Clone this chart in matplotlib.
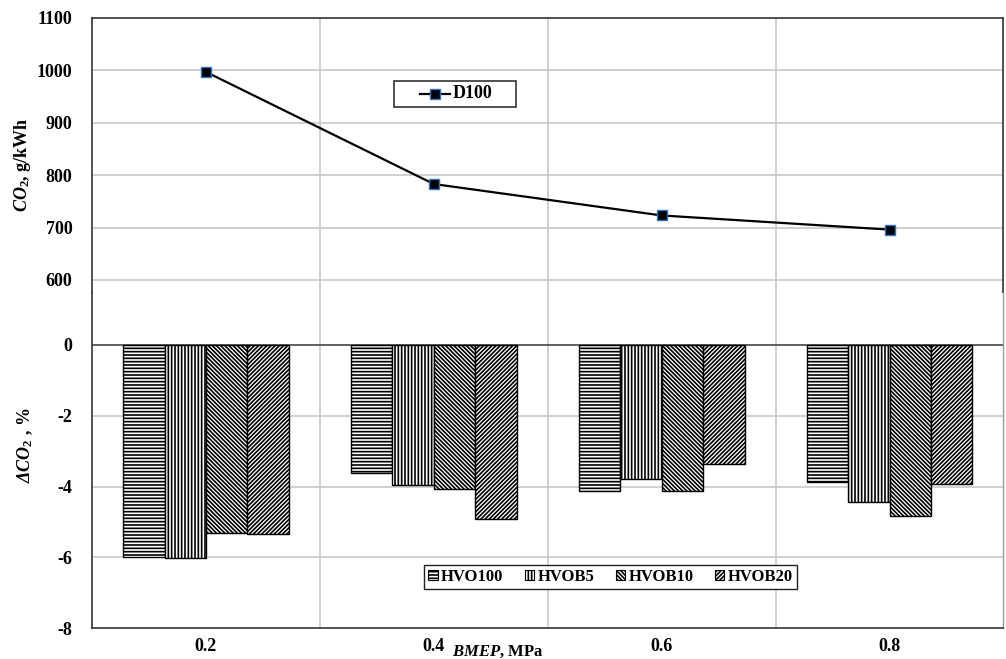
import numpy as np
import matplotlib
matplotlib.use("Agg")
import matplotlib.pyplot as plt
from matplotlib.patches import Patch, Rectangle

# CO2 emissions vs. BMEP: absolute D100 values (top), relative change of HVO blends (bottom)
bmep = ["0.2", "0.4", "0.6", "0.8"]
d100 = [997, 783, 723, 696]

fuels = ["HVO100", "HVOB5", "HVOB10", "HVOB20"]
hvo100 = [-6.00, -3.63, -4.14, -3.88]
hvob5 = [-6.03, -3.97, -3.80, -4.44]
hvob10 = [-5.32, -4.08, -4.12, -4.84]
hvob20 = [-5.35, -4.91, -3.36, -3.93]
delta_co2 = [hvo100, hvob5, hvob10, hvob20]
hatches = ["-----", "|||||", "\\" * 8, "/" * 8]

plt.rcParams["font.family"] = ["Liberation Serif", "DejaVu Serif"]
plt.rcParams["font.weight"] = "bold"
plt.rcParams["axes.unicode_minus"] = False
plt.rcParams["mathtext.fontset"] = "custom"
plt.rcParams["mathtext.rm"] = "Liberation Serif:bold"
plt.rcParams["mathtext.it"] = "Liberation Serif:bold:italic"
plt.rcParams["mathtext.cal"] = "Liberation Serif:bold:italic"
plt.rcParams["hatch.linewidth"] = 1.2

grid_c = "#c4c4c4"
spine_c = "#333333"
bold = {"weight": "bold", "size": 13}
bold_s = {"weight": "bold", "size": 12}

fig = plt.figure(figsize=(10.06, 6.59), dpi=100)
ax1 = fig.add_axes([0.0915, 0.5554, 0.906, 0.4173])
ax2 = fig.add_axes([0.0915, 0.0470, 0.906, 0.5084])

x = np.arange(len(bmep))
for ax in (ax1, ax2):
    ax.set_xlim(-0.5, len(bmep) - 0.5)
    for xv in x[:-1] + 0.5:
        ax.axvline(xv, color=grid_c, lw=1.1, zorder=0)
    ax.tick_params(length=0)
    for s in ax.spines.values():
        s.set_color(spine_c)
        s.set_linewidth(1.2)

# --- top panel: D100 line
ax1.set_ylim(575, 1100)
ax1.set_yticks([600, 700, 800, 900, 1000, 1100])
ax1.set_yticklabels([str(v) for v in ax1.get_yticks().astype(int)], fontdict=bold)
for yv in [600, 700, 800, 900, 1000]:
    ax1.axhline(yv, color=grid_c, lw=1.1, zorder=0)
ax1.spines["bottom"].set_visible(False)
ax1.set_xticks([])
ax1.tick_params(axis="y", pad=14)
mstyle = dict(marker="s", ms=7, mfc="black", mec="#2f75c5", mew=1.0)
ax1.plot(x, d100, color="black", lw=1.6, zorder=3, **mstyle)

# legend box for the line series
ax1.add_patch(Rectangle((0.331, 0.677), 0.134, 0.0945, transform=ax1.transAxes,
                        facecolor="white", edgecolor="#333333", lw=1.2, zorder=4))
ax1.plot([0.360, 0.393], [0.724, 0.724], transform=ax1.transAxes,
         color="black", lw=1.6, zorder=5)
ax1.plot([0.3765], [0.724], transform=ax1.transAxes, zorder=6, **mstyle)
ax1.text(0.396, 0.724, "D100", transform=ax1.transAxes, ha="left", va="center",
         fontdict=bold, zorder=6)
ax1.set_ylabel(r"$CO_2$, g/kWh", fontdict=bold)
ax1.yaxis.set_label_coords(-0.065, 0.465)

# --- bottom panel: relative change bars
ax2.set_ylim(-8, 1.47)
ax2.set_yticks([-8, -6, -4, -2, 0])
ax2.set_yticklabels([str(v) for v in [-8, -6, -4, -2, 0]], fontdict=bold)
for yv in [-6, -4, -2]:
    ax2.axhline(yv, color=grid_c, lw=1.1, zorder=0)
ax2.axhline(0, color="#444444", lw=1.2, zorder=1)
ax2.spines["top"].set_visible(False)
ax2.spines["right"].set_color("#999999")
ax2.spines["right"].set_linewidth(1.0)
ax2.set_xticks(x)
ax2.set_xticklabels(bmep, fontdict=bold)
ax2.tick_params(axis="y", pad=14)
ax2.tick_params(axis="x", pad=7)

w = 0.182
for i, (vals, h) in enumerate(zip(delta_co2, hatches)):
    ax2.bar(x + (i - 1.5) * w, vals, width=w, color="white", edgecolor="black",
            hatch=h, lw=1.0, zorder=2)

handles = [Patch(facecolor="white", edgecolor="black", hatch=h, lw=0.8) for h in hatches]
ax2.legend(handles, fuels, loc="center", bbox_to_anchor=(0.569, 0.152), ncol=4,
           frameon=True, fancybox=False, edgecolor="#222222", framealpha=1,
           prop=bold_s, handlelength=0.55, handleheight=0.55,
           handletextpad=0.2, columnspacing=1.3, borderpad=0.25)
ax2.set_ylabel(r"$\mathcal{Δ}CO_2$ , %", fontdict=bold)
ax2.yaxis.set_label_coords(-0.063, 0.546)
ax2.text(0.445, -0.071, r"$BMEP$, MPa", transform=ax2.transAxes,
         ha="center", va="center", fontdict=bold_s)

fig.savefig("out.png", dpi=100, facecolor="white")
